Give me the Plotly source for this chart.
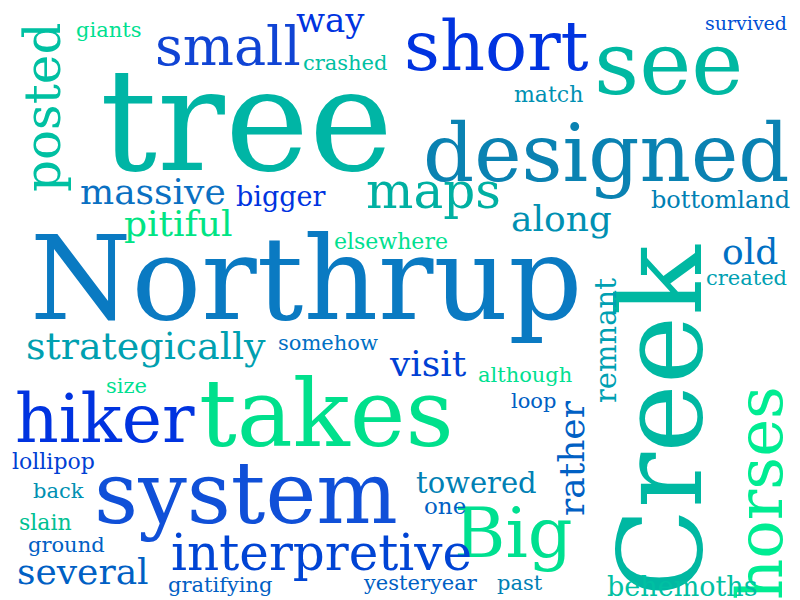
import plotly.graph_objects as go

words = ["tree", "Northrup", "takes", "system", "designed", "see", "short", "Creek",
         "horses", "Big", "hiker", "interpretive", "small", "posted", "maps", "massive",
         "pitiful", "along", "strategically", "several", "visit", "old", "way", "bigger",
         "bottomland", "elsewhere", "created", "somehow", "although", "loop", "remnant",
         "rather", "towered", "one", "yesteryear", "past", "behemoths", "gratifying",
         "ground", "slain", "back", "lollipop", "size", "giants", "crashed", "survived",
         "match"]
weights = [142, 116, 94, 86, 80, 88, 70, 116, 64, 70, 68, 50, 54, 50, 50, 36,
           36, 36, 38, 36, 36, 36, 34, 27, 24, 22, 21, 21, 21, 21, 29,
           36, 29, 23, 21, 21, 27, 21, 21, 22, 21, 22, 21, 21, 21, 19, 22]
colors = ["#00b5a5", "#0a7ac2", "#00e08c", "#1050d8", "#0a82b2", "#00b8a2", "#0033e0", "#00b8a2",
          "#00ec92", "#00e090", "#0033e0", "#0044d4", "#1044d4", "#00c0a2", "#00b0a2", "#0a70c2",
          "#00e484", "#0090b2", "#00a0b0", "#0060c4", "#0040d4", "#0070c4", "#0033e0", "#0033e0",
          "#0080b4", "#00e090", "#00a0b2", "#0070c4", "#00e090", "#0060c4", "#00a0b2",
          "#0060c4", "#0080b4", "#0060c4", "#0060c4", "#0080b4", "#00c0a2", "#0060c4",
          "#0060c4", "#00c092", "#0090b2", "#0040d4", "#00e090", "#00e090", "#00c0a2", "#0050d4",
          "#0090b2"]

# layout of the cloud (centre x, centre y, angle)
xs = [238, 298, 318, 238, 598, 660, 488, 652, 752, 505, 97, 313, 220, 35, 425, 145,
      170, 553, 138, 75, 420, 742, 322, 272, 712, 383, 738, 320, 517, 525, 598,
      563, 468, 437, 412, 512, 674, 212, 58, 37, 50, 45, 118, 100, 337, 738, 540]
ys = [112, 270, 405, 485, 145, 55, 38, 412, 485, 525, 410, 545, 38, 100, 183, 183,
      215, 210, 338, 563, 355, 243, 12, 188, 192, 233, 270, 335, 367, 393, 333,
      450, 475, 498, 575, 575, 578, 577, 537, 514, 483, 453, 378, 22, 55, 15, 86]
angles = [0, 0, 0, 0, 0, 0, 0, -90, -90, 0, 0, 0, 0, -90, 0, 0,
          0, 0, 0, 0, 0, 0, 0, 0, 0, 0, 0, 0, 0, 0, -90,
          -90, 0, 0, 0, 0, 0, 0, 0, 0, 0, 0, 0, 0, 0, 0, 0]

fig = go.Figure()
fig.add_trace(go.Scatter(x=[0, 800], y=[0, 600], mode="markers", marker=dict(opacity=0),
                         hoverinfo="skip", showlegend=False))
for w, s, c, x, y, a in zip(words, weights, colors, xs, ys, angles):
    fig.add_annotation(x=x, y=y, text=w, showarrow=False, textangle=a,
                       font=dict(family="DejaVu Serif", size=s, color=c),
                       xanchor="center", yanchor="middle")

fig.update_xaxes(range=[0, 800], visible=False)
fig.update_yaxes(range=[600, 0], visible=False)
fig.update_layout(width=800, height=600, margin=dict(l=0, r=0, t=0, b=0),
                  plot_bgcolor="white", paper_bgcolor="white")
fig.write_html("out.html")
